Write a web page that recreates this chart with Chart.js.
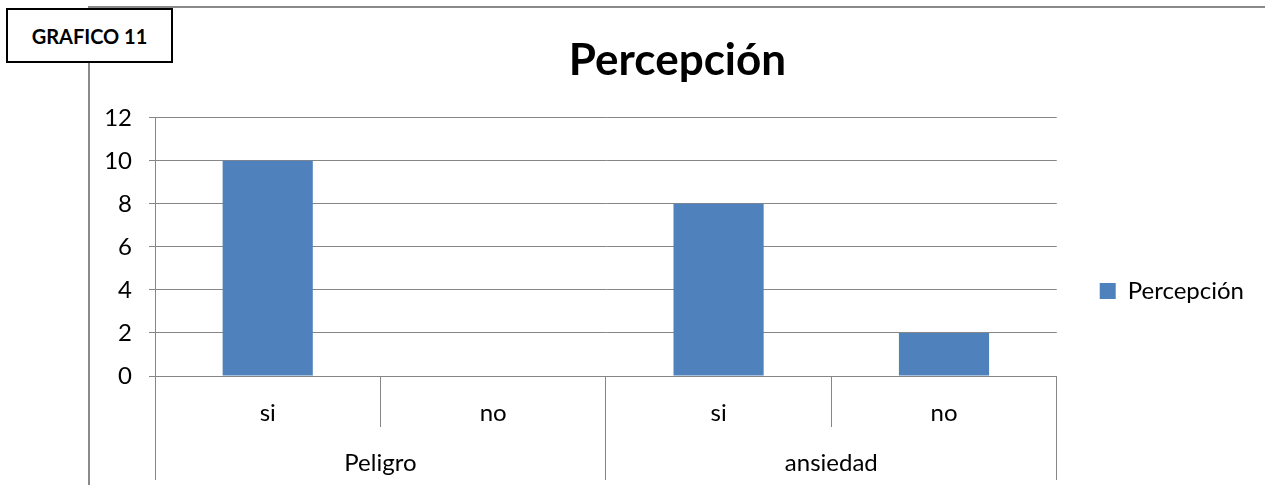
<!DOCTYPE html>
<html>
<head>
<meta charset="utf-8">
<script src="https://cdn.jsdelivr.net/npm/chart.js@4"></script>
<style>
  html, body { margin: 0; padding: 0; background: #fff; width: 1265px; height: 485px; overflow: hidden; }
  #frame { position: absolute; left: 88px; top: 6px; width: 1177px; height: 479px;
           border-top: 2px solid #8a8a8a; border-left: 2px solid #8a8a8a; box-sizing: border-box; }
  #chart { position: absolute; left: 0; top: 0; }
  #tag { position: absolute; left: 6px; top: 8px; width: 167px; height: 55px; box-sizing: border-box;
         border: 2px solid #000; background: #fff; font: bold 20px Lato, "Open Sans", sans-serif;
         display: flex; align-items: center; justify-content: center; color: #000; }
</style>
</head>
<body>
<div id="frame"><canvas id="chart" width="1175" height="477"></canvas></div>
<div id="tag">GRAFICO 11</div>
<script>
const categories = ['si', 'no', 'si', 'no'];
const groups = ['Peligro', 'ansiedad'];
const seriesName = 'Percepción';
const values = [10, 0, 8, 2];
const yTicks = [0, 2, 4, 6, 8, 10, 12];

const GRID = '#868686';
const FONT = 'Lato, "Open Sans", sans-serif';

new Chart(document.getElementById('chart'), {
  type: 'bar',
  data: {
    labels: categories,
    datasets: [{
      label: seriesName,
      data: values,
      backgroundColor: '#4F81BD',
      borderWidth: 0,
      barPercentage: 0.4,
      categoryPercentage: 1.0,
      xAxisID: 'x',
      yAxisID: 'y'
    }]
  },
  options: {
    responsive: false,
    devicePixelRatio: 1,
    animation: false,
    layout: { padding: { left: 11, right: 11, top: 0, bottom: 5 } },
    plugins: {
      title: {
        display: true,
        text: seriesName,
        color: '#000',
        font: { family: FONT, size: 44, weight: 'bold' },
        padding: { top: 26, bottom: 31 }
      },
      legend: {
        display: true,
        position: 'right',
        title: { display: true, text: ' ', font: { family: FONT, size: 10 }, padding: { top: 0, bottom: 82 } },
        labels: {
          color: '#000',
          font: { family: FONT, size: 24 },
          boxWidth: 16, boxHeight: 16,
          padding: 43
        }
      },
      tooltip: { enabled: false }
    },
    scales: {
      x: {
        type: 'category',
        position: 'bottom',
        weight: 0,
        offset: true,
        grid: { offset: true, drawOnChartArea: false, drawTicks: true, tickLength: 51, color: GRID, lineWidth: 1 },
        border: { display: true, color: GRID, width: 1 },
        ticks: { color: '#000', font: { family: FONT, size: 24 }, padding: -28, maxRotation: 0 },
        afterFit: s => { s.height = 51; }
      },
      x2: {
        type: 'category',
        position: 'bottom',
        weight: 1,
        labels: groups,
        offset: true,
        grid: { offset: true, drawOnChartArea: false, drawTicks: true, tickLength: 53, color: GRID, lineWidth: 1 },
        border: { display: false },
        ticks: { color: '#000', font: { family: FONT, size: 24 }, padding: -31, maxRotation: 0 },
        afterFit: s => { s.height = 53; }
      },
      y: {
        min: 0, max: 12,
        afterBuildTicks: s => { s.ticks = yTicks.map(v => ({ value: v })); },
        grid: { color: GRID, lineWidth: 1, tickLength: 6 },
        border: { display: true, color: GRID, width: 1 },
        ticks: { color: '#000', font: { family: FONT, size: 24 }, padding: 17 },
        afterFit: s => { s.width = 54; }
      }
    }
  }
});
</script>
</body>
</html>
